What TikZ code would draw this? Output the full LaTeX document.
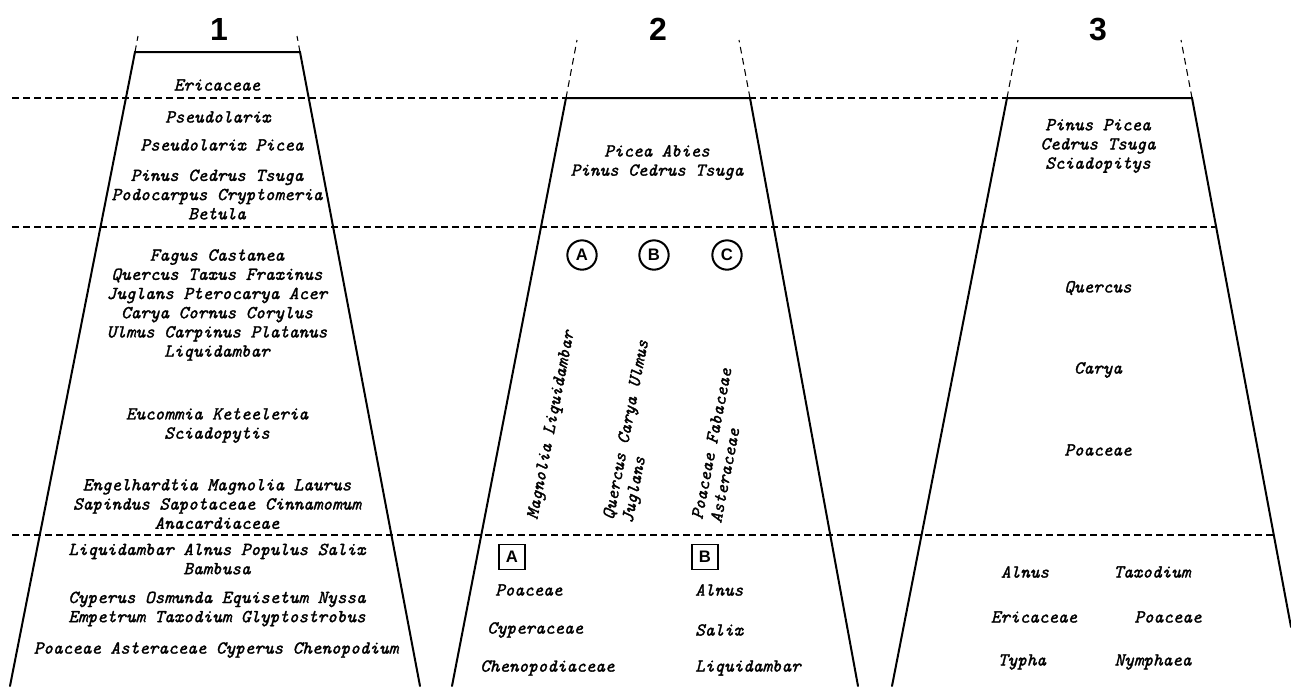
\documentclass[tikz,border=0pt]{standalone}
\usepackage{fontspec}
\newfontfamily\hfont{Liberation Sans}
\newfontfamily\taxfam{Latin Modern Mono}[ItalicFeatures={FakeBold=1.6}]
\newcommand\taxa{\taxfam\itshape\fontsize{13.7}{14.4}\selectfont}
\newcommand\numfont{\hfont\bfseries\fontsize{24}{24}\selectfont}
\newcommand\lblfont{\hfont\bfseries\fontsize{12.5}{12.5}\selectfont}
\tikzset{
  taxon/.style={font=\taxa, inner sep=0pt, align=center},
  ltaxon/.style={font=\taxa, inner sep=0pt, anchor=west},
  rtaxon/.style={font=\taxa, inner sep=0pt, align=left, rotate=79, anchor=north west},
  colnum/.style={font=\numfont, inner sep=0pt},
  edge/.style={line width=1.5pt, line cap=round},
  ext/.style={line width=0.8pt, dash pattern=on 5pt off 3.5pt},
  hdash/.style={line width=1.2pt, dash pattern=on 5.25pt off 3pt},
  circlbl/.style={circle, draw, line width=1.5pt, minimum size=22pt, inner sep=0pt, font=\lblfont},
  sqlbl/.style={rectangle, draw, line width=1.4pt, minimum width=19.5pt, minimum height=18.75pt, inner sep=0pt, font=\lblfont}
}
\begin{document}
\begin{tikzpicture}[x=0.75pt, y=-0.75pt]
\useasboundingbox (0,0) rectangle (1291,686);

% horizontal dashed boundaries
\coordinate (h1a) at (12,98);  \coordinate (h1b) at (1007,98);
\coordinate (h2a) at (12,227); \coordinate (h2b) at (1215,227);
\coordinate (h3a) at (12,535); \coordinate (h3b) at (1273,535);
\draw[hdash] (h1a) -- (h1b);
\draw[hdash] (h2a) -- (h2b);
\draw[hdash] (h3a) -- (h3b);

% column 1
\coordinate (t1l) at (135,52);  \coordinate (t1r) at (300,52);
\coordinate (b1l) at (10,686);  \coordinate (b1r) at (420,686);
\coordinate (u1l) at (138,36);  \coordinate (u1r) at (297,36);
\draw[edge] (b1l) -- (t1l) -- (t1r) -- (b1r);
\draw[ext] (t1l) -- (u1l);
\draw[ext] (t1r) -- (u1r);

% column 2
\coordinate (t2l) at (566,98);  \coordinate (t2r) at (750,98);
\coordinate (b2l) at (452,686); \coordinate (b2r) at (858,686);
\coordinate (u2l) at (577,40);  \coordinate (u2r) at (739,40);
\draw[edge] (b2l) -- (t2l) -- (t2r) -- (b2r);
\draw[ext] (t2l) -- (u2l);
\draw[ext] (t2r) -- (u2r);

% column 3
\coordinate (t3l) at (1007,98); \coordinate (t3r) at (1192,98);
\coordinate (b3l) at (892,686); \coordinate (b3r) at (1291,627);
\coordinate (u3l) at (1018,40); \coordinate (u3r) at (1181,40);
\draw[edge] (b3l) -- (t3l) -- (t3r) -- (b3r);
\draw[ext] (t3l) -- (u3l);
\draw[ext] (t3r) -- (u3r);

% column numbers
\node[colnum] (n1) at (219,29) {1};
\node[colnum] (n2) at (658,29) {2};
\node[colnum] (n3) at (1098,30) {3};

% column 1 texts
\node[taxon] (c1a) at (217,85) {Ericaceae};
\node[taxon] (c1b) at (218,117) {Pseudolarix};
\node[taxon] (c1c) at (222,145) {Pseudolarix Picea};
\node[taxon] (c1d) at (217,194.5) {Pinus Cedrus Tsuga\\Podocarpus Cryptomeria\\Betula};
\node[taxon] (c1e) at (217,305) {Fagus Castanea\\Quercus Taxus Fraxinus\\Juglans Pterocarya Acer\\Carya Cornus Corylus\\Ulmus Carpinus Platanus\\Liquidambar};
\node[taxon] (c1f) at (217,425.5) {Eucommia Keteeleria\\Sciadopytis};
\node[taxon] (c1g) at (217,504) {Engelhardtia Magnolia Laurus\\Sapindus Sapotaceae Cinnamomum\\Anacardiaceae};
\node[taxon] (c1h) at (217,559) {Liquidambar Alnus Populus Salix\\Bambusa};
\node[taxon] (c1i) at (217,609) {Cyperus Osmunda Equisetum Nyssa\\Empetrum Taxodium Glyptostrobus};
\node[taxon] (c1j) at (216,650) {Poaceae Asteraceae Cyperus Chenopodium};

% column 2 texts
\node[taxon] (c2a) at (657,162.5) {Picea Abies\\Pinus Cedrus Tsuga};
\node[circlbl] (ca) at (582,255) {A};
\node[circlbl] (cb) at (654,255) {B};
\node[circlbl] (cc) at (727,255) {C};
\node[rtaxon] (r1) at (526,518) {Magnolia Liquidambar};
\node[rtaxon] (r2) at (602,518) {Quercus Carya Ulmus\\Juglans};
\node[rtaxon] (r3) at (691,518) {Poaceae Fabaceae\\Asteraceae};
\node[sqlbl] (sa) at (512,557) {A};
\node[sqlbl] (sb) at (705,557) {B};
\node[ltaxon] (c2b) at (495,590) {Poaceae};
\node[ltaxon] (c2c) at (487,630) {Cyperaceae};
\node[ltaxon] (c2d) at (480,668) {Chenopodiaceae};
\node[ltaxon] (c2e) at (695,590) {Alnus};
\node[ltaxon] (c2f) at (695,630) {Salix};
\node[ltaxon] (c2g) at (695,668) {Liquidambar};

% column 3 texts
\node[taxon] (c3a) at (1098,146) {Pinus Picea\\Cedrus Tsuga\\Sciadopitys};
\node[taxon] (c3b) at (1098,288) {Quercus};
\node[taxon] (c3c) at (1098,370) {Carya};
\node[taxon] (c3d) at (1098,450) {Poaceae};
\node[taxon] (c3e) at (1025,572) {Alnus};
\node[taxon] (c3f) at (1152,572) {Taxodium};
\node[taxon] (c3g) at (1034,617) {Ericaceae};
\node[taxon] (c3h) at (1168,617) {Poaceae};
\node[taxon] (c3i) at (1022,662) {Typha};
\node[taxon] (c3j) at (1153,662) {Nymphaea};
\end{tikzpicture}
\end{document}
